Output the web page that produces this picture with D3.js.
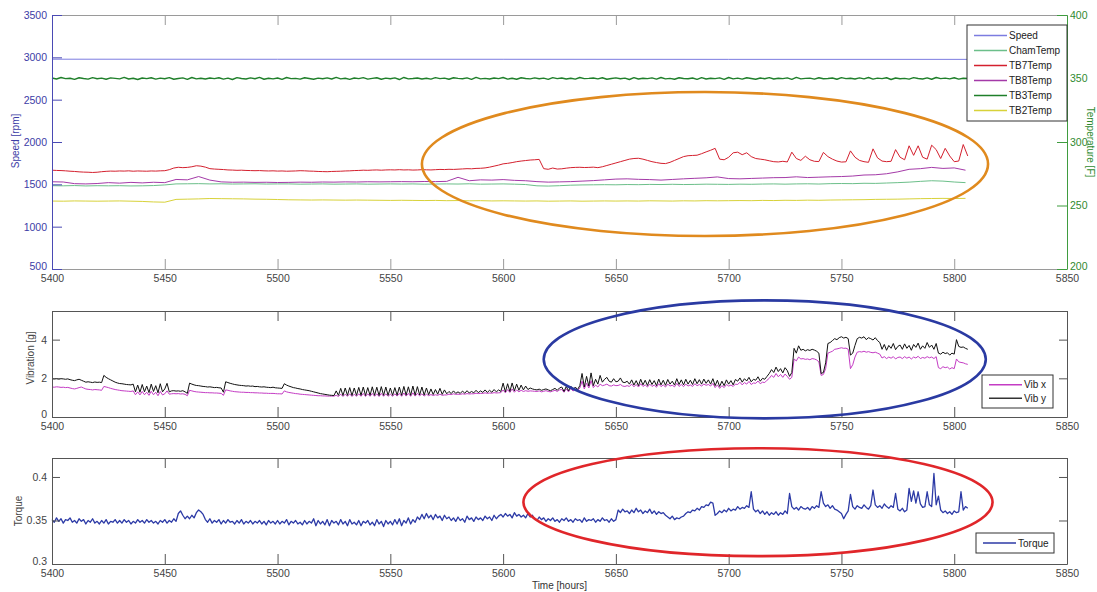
<!DOCTYPE html>
<html>
<head>
<meta charset="utf-8">
<script src="https://cdn.jsdelivr.net/npm/d3@7"></script>
<style>
body { margin: 0; background: #fff; }
text { font-family: "Liberation Sans", Arial, sans-serif; }
</style>
</head>
<body>
<svg id="chart" width="1097" height="592"></svg>
<script>
// ---- tick labels ----
var xTicks = [5400, 5450, 5500, 5550, 5600, 5650, 5700, 5750, 5800, 5850];
var speedTicks = [500, 1000, 1500, 2000, 2500, 3000, 3500];
var tempTicks = [200, 250, 300, 350, 400];
var vibTicks = [0, 2, 4];
var torqueTicks = [0.3, 0.35, 0.4];

// ---- top panel: speed (rpm) and temperatures (F) ----
var speedHours = [5400, 5500, 5600, 5700, 5806];
var speed = [2978, 2977, 2977, 2976, 2976];

// 2 h samples from 5400
var tb7Temp = [
  277.8,277.6,277.5,277.3,277.0,276.8,276.5,276.3,276.2,276.0,276.2,
  276.6,276.9,277.1,277.0,277.2,277.1,277.3,277.0,277.2,277.1,277.0,277.2,277.1,277.3,277.4,
  278.2,279.5,280.1,279.8,280.0,280.5,281.3,281.0,280.2,279.0,278.7,278.5,
  278.3,278.0,277.9,277.7,277.8,277.6,277.5,277.4,277.5,277.3,277.2,277.3,277.1,277.2,277.0,277.1,277.2,277.4,
  277.3,277.1,277.0,276.8,276.7,276.6,276.8,276.9,277.0,277.2,277.3,277.5,277.6,277.8,277.7,277.9,278.0,277.8,278.0,278.1,
  278.0,278.2,278.0,278.1,277.9,278.0,278.2,278.1,278.0,278.2,278.4,278.3,278.5,278.4,278.6,278.8,279.0,278.9,279.2,279.3,
  279.6,280.2,281.0,281.8,282.8,283.2,283.8,284.5,285.0,285.4,285.8,286.0,286.3,
  279.0,278.5,279.5,278.7,278.9,279.4,279.8,280.0,280.1,279.9,280.0,280.2,279.8,
  280.5,281.5,282.5,283.5,284.5,285.5,286.5,287.0,287.2,286.5,285.5,284.5,283.8,283.2,283.0,
  284.0,285.5,287.0,288.5,289.2,289.4,289.6,290.8,292.2,293.5,295.0,
  286.5,286.0,288.0,291.5,
  292.0,290.0,291.5,288.5,287.0,286.5,286.0,285.2,284.5,284.3,284.8,284.3,292.0,
  287.0,285.5,288.8,286.0,284.8,284.6,
  291.8,288.5,286.5,285.0,284.2,284.4,
  293.0,288.0,285.5,284.5,284.0,
  294.6,287.5,285.0,284.5,284.8,
  294.0,288.0,286.0,
  297.0,289.5,
  297.0,288.0,286.5,
  297.5,294.0,
  287.0,295.0,289.0,
  284.5,285.0,
  298.0,289.0
];

var tb3Temp = [
  350.4,349.6,350.8,349.9,350.2,349.3,350.6,350.0,349.5,350.7,349.8,350.3,
  349.4,350.5,350.1,349.7,350.9,349.6,350.2,349.2,350.4,349.9,350.6,349.5,
  350.3,349.8,350.7,349.4,350.0,350.5,349.3,350.8,349.7,350.2,349.6,350.4,
  349.9,350.6,349.5,350.3,349.2,350.7,350.0,349.6,350.5,349.8,350.9,349.4,
  350.2,349.7,350.4,349.3,350.8,349.9,350.1,349.5,350.6,350.0,349.4,350.3,
  349.8,350.5,349.6,350.9,349.7,350.2,349.3,350.4,349.9,350.7,349.5,350.1,
  350.6,349.4,350.3,349.8,350.5,349.2,350.8,349.7,350.0,350.4,349.6,350.2,
  349.5,350.7,349.9,350.3,349.4,350.6,350.1,349.8,350.5,349.3,350.9,349.7,
  350.1,349.6,350.4,349.9,350.8,349.5,350.2,349.4,350.6,350.0,349.7,350.5,
  349.8,350.3,349.3,350.7,349.9,350.4,349.6,350.2,349.5,350.8,349.9,350.1,
  350.4,349.7,350.6,349.4,350.0,350.5,349.8,350.3,349.2,350.7,349.6,350.2,
  349.9,350.5,349.5,350.8,349.7,350.1,349.4,350.6,350.0,349.8,350.4,349.3,
  350.7,349.6,350.2,349.9,350.5,349.3,350.8,349.7,350.3,349.5,350.6,350.0,
  349.4,350.4,349.8,350.7,349.6,350.2,349.9,350.5,349.3,350.9,349.7,350.1,
  350.3,349.5,350.6,349.8,350.0,350.4,349.4,350.7,349.9,350.2,349.6,350.5,
  349.7,350.8,349.5,350.3,349.9,350.6,349.2,350.4,349.8,350.1,349.5,350.7,
  350.0,349.6,350.5,349.4,350.8,349.9,350.3,349.7,350.6,349.5,350.2,350.0
];

// 5 h samples from 5400
var tb8Temp = [
  268.7,268.5,267.2,267.0,267.3,268.0,267.6,268.2,267.8,268.3,268.0,
  270.5,270.2,272.8,270.0,268.6,268.3,268.4,268.2,268.3,268.1,
  268.2,268.4,268.3,268.5,268.4,268.6,268.5,268.7,268.6,268.7,
  268.8,268.7,268.9,268.8,269.0,272.2,269.5,270.2,270.0,270.4,
  269.8,269.5,268.8,268.4,268.6,268.8,269.2,269.6,270.2,270.8,
  271.0,270.6,270.4,270.0,270.5,271.0,271.4,271.8,272.5,271.2,
  271.0,271.3,271.6,271.9,272.0,272.6,272.0,272.3,272.6,272.8,
  273.2,274.0,274.2,275.0,276.5,278.5,279.0,280.0,279.2,279.6,277.8
];
var chamTemp = [
  265.6,265.5,265.7,265.4,265.6,265.5,265.6,265.4,265.5,265.7,266.2,
  267.0,267.1,267.2,267.0,267.1,266.9,267.0,267.1,266.9,267.0,
  267.0,266.8,266.9,267.0,266.8,266.9,267.0,266.8,266.9,267.0,
  266.9,267.0,266.8,266.9,267.0,266.9,267.1,266.8,266.9,267.0,
  266.8,266.5,265.5,265.3,265.6,266.0,266.2,266.3,266.4,266.3,
  266.5,266.4,266.6,266.5,266.7,266.5,266.6,266.8,266.7,266.6,
  266.8,266.7,266.9,267.0,266.8,267.0,267.1,266.9,267.2,267.3,
  267.2,267.5,267.4,267.7,268.0,268.4,269.0,269.5,269.2,268.5,268.0
];
var tb2Temp = [
  253.5,253.4,253.6,253.5,253.4,253.5,253.6,253.4,253.2,252.8,252.6,
  254.8,255.0,255.2,255.5,255.4,255.3,255.2,255.0,254.9,254.7,
  254.5,254.4,254.3,254.4,254.3,254.2,254.3,254.2,254.1,254.0,
  254.1,254.0,253.9,254.0,253.8,253.9,253.7,253.8,253.6,253.7,
  253.6,253.5,253.6,253.4,253.5,253.6,253.4,253.5,253.6,253.5,
  253.6,253.5,253.7,253.6,253.5,253.7,253.6,253.8,253.7,253.8,
  253.9,253.8,254.0,253.9,254.1,254.0,254.2,254.1,254.3,254.4,
  254.5,254.6,254.8,254.9,255.0,255.2,255.4,255.5,255.6,255.5,255.6
];

// ---- middle panel: vibration (g), 1 h samples from 5400 ----
var vibY = [
  1.98,1.97,1.99,1.96,1.98,1.97,1.95,1.97,1.93,
  1.90,1.88,1.92,1.95,1.90,1.85,
  1.80,1.82,1.80,1.78,1.81,1.79,1.80,1.78,
  2.15,
  2.05,1.98,1.92,1.86,1.80,1.76,1.73,1.72,1.70,1.68,1.67,1.66,
  1.70,1.30,1.65,1.28,1.68,1.30,1.60,1.26,1.70,1.32,1.62,1.25,1.72,1.30,1.45,1.74,
  1.30,1.35,1.36,1.34,1.35,1.33,1.36,1.30,1.22,
  1.75,
  1.70,1.66,1.63,1.62,1.60,1.58,1.57,1.55,1.56,1.54,1.52,1.53,1.51,1.50,1.28,
  1.82,
  1.78,1.74,1.71,1.68,1.66,1.64,1.63,1.62,1.60,1.61,1.59,1.60,1.57,1.58,1.56,1.55,1.56,1.54,1.53,1.52,1.54,1.51,1.50,1.49,1.48,
  1.72,
  1.65,1.60,1.56,1.52,1.50,1.47,1.45,1.42,1.40,1.38,1.36,1.33,1.30,1.27,1.24,1.21,1.19,1.17,1.15,1.13,1.12,1.11,
  1.35,1.12,1.48,1.11,1.50,1.12,1.52,1.11,1.50,1.12,1.53,1.12,1.55,1.11,1.52,1.12,1.56,1.12,1.54,1.11,1.57,1.12,1.55,1.12,
  1.50,1.12,1.52,1.13,1.55,1.12,1.58,1.13,1.56,1.12,1.60,1.13,1.57,1.14,1.55,1.13,1.50,1.15,1.45,1.16,1.42,1.18,1.48,1.17,1.40,1.20,
  1.32,1.21,1.35,1.22,1.30,1.22,1.34,1.23,1.36,1.24,1.32,1.25,1.38,1.26,1.35,1.27,1.40,1.27,1.38,1.28,1.42,1.30,1.40,1.32,
  1.75,1.30,1.72,1.32,1.76,1.35,1.70,1.38,1.65,1.40,1.60,1.42,1.50,
  1.45,1.42,1.40,1.44,1.38,1.42,1.45,1.40,1.36,1.42,1.48,1.38,1.50,
  1.55,1.32,1.58,1.35,1.60,1.40,1.55,1.42,1.62,
  2.25,1.55,2.10,1.60,2.28,1.62,1.95,1.70,2.15,
  1.80,1.95,2.05,1.85,1.80,1.98,1.82,1.85,2.02,1.80,1.78,1.85,
  1.70,1.92,1.65,1.88,1.62,1.95,1.66,1.90,1.63,1.93,1.68,1.88,1.62,1.96,1.66,1.90,1.64,1.94,1.70,1.85,1.65,1.98,1.68,1.92,
  1.66,1.95,1.70,1.90,1.68,1.98,1.72,1.93,1.70,1.96,1.74,1.92,1.70,1.98,1.62,1.90,1.58,1.85,1.62,1.92,1.70,1.88,1.66,1.94,
  1.85,2.02,1.80,1.98,1.86,2.05,1.82,1.95,1.90,2.08,1.85,2.00,1.95,2.10,
  2.25,2.45,2.30,2.58,2.35,2.50,2.28,2.55,2.40,2.10,
  2.30,
  3.55,3.30,3.68,
  3.45,3.50,3.42,3.48,3.44,3.50,3.46,3.40,3.30,
  2.25,2.30,2.80,
  3.80,3.85,3.95,4.05,4.00,4.10,4.15,4.08,4.12,4.05,
  3.20,3.30,3.70,
  4.05,4.12,4.08,4.15,4.00,4.10,4.05,3.98,4.10,3.95,3.85,
  3.50,3.75,3.45,3.70,3.55,3.80,3.48,3.65,3.72,3.50,3.78,3.55,3.70,3.45,3.75,3.60,3.82,3.50,3.68,3.55,3.85,3.60,3.72,3.50,3.80,
  3.30,3.25,3.35,3.28,3.32,3.20,3.30,3.25,
  4.00,
  3.65,3.60,3.62,3.55,3.50
];
var vibX = [
  1.55,1.54,1.56,1.55,1.53,1.54,1.52,1.53,1.50,
  1.47,1.45,1.48,1.52,1.55,1.50,
  1.45,1.43,1.42,1.40,1.42,1.41,1.40,1.38,
  1.58,
  1.55,1.52,1.48,1.45,1.42,1.40,1.38,1.36,1.35,1.34,1.33,1.32,
  1.35,1.15,1.30,1.14,1.32,1.15,1.28,1.12,1.33,1.15,1.28,1.10,1.32,1.14,1.20,1.35,
  1.18,1.20,1.21,1.20,1.21,1.19,1.20,1.17,1.10,
  1.38,
  1.35,1.32,1.30,1.29,1.28,1.27,1.26,1.26,1.25,1.25,1.24,1.24,1.23,1.22,1.12,
  1.40,
  1.38,1.35,1.33,1.31,1.30,1.29,1.28,1.28,1.27,1.27,1.26,1.26,1.25,1.25,1.24,1.24,1.23,1.23,1.22,1.22,1.22,1.21,1.20,1.20,1.19,
  1.35,
  1.30,1.27,1.25,1.23,1.21,1.20,1.18,1.17,1.16,1.15,1.14,1.13,1.12,1.11,1.10,1.10,1.09,1.09,1.08,1.08,1.08,1.08,
  1.12,1.06,1.18,1.06,1.18,1.07,1.20,1.06,1.18,1.07,1.20,1.07,1.22,1.06,1.20,1.07,1.22,1.07,1.20,1.06,1.22,1.07,1.20,1.07,
  1.18,1.07,1.20,1.08,1.22,1.07,1.24,1.08,1.22,1.07,1.25,1.08,1.22,1.09,1.20,1.08,1.18,1.10,1.16,1.11,1.15,1.12,1.18,1.12,1.14,1.14,
  1.18,1.16,1.20,1.17,1.18,1.17,1.20,1.18,1.21,1.19,1.20,1.20,1.23,1.21,1.22,1.22,1.25,1.22,1.24,1.23,1.26,1.24,1.25,1.26,
  1.40,1.25,1.42,1.27,1.45,1.28,1.40,1.30,1.38,1.32,1.36,1.33,1.35,
  1.34,1.33,1.32,1.35,1.30,1.33,1.36,1.32,1.30,1.34,1.38,1.32,1.40,
  1.42,1.28,1.45,1.30,1.48,1.34,1.45,1.36,1.50,
  1.85,1.45,1.75,1.50,1.88,1.52,1.65,1.55,1.70,
  1.62,1.65,1.70,1.62,1.60,1.66,1.62,1.63,1.68,1.60,1.58,1.62,
  1.58,1.70,1.56,1.68,1.55,1.72,1.58,1.66,1.55,1.70,1.58,1.65,1.54,1.72,1.57,1.66,1.55,1.70,1.60,1.64,1.56,1.74,1.58,1.68,
  1.57,1.70,1.60,1.66,1.58,1.72,1.62,1.68,1.60,1.70,1.64,1.68,1.60,1.74,1.52,1.66,1.48,1.62,1.52,1.68,1.60,1.65,1.58,1.70,
  1.68,1.80,1.66,1.78,1.70,1.84,1.68,1.76,1.74,1.86,1.72,1.80,1.78,1.90,
  2.00,2.15,2.05,2.25,2.08,2.20,2.05,2.22,2.10,1.95,
  2.05,
  3.00,2.90,3.10,
  3.00,3.02,2.98,3.00,2.96,3.02,3.00,2.95,2.85,
  2.15,2.20,2.50,
  3.30,3.35,3.40,3.50,3.52,3.55,3.58,3.55,3.56,3.50,
  2.50,2.70,3.10,
  3.35,3.38,3.36,3.40,3.35,3.38,3.34,3.32,3.35,3.30,3.25,
  3.05,3.12,3.02,3.10,3.04,3.12,3.00,3.08,3.10,3.02,3.12,3.04,3.10,3.00,3.10,3.05,3.14,3.02,3.08,3.04,3.12,3.06,3.10,3.02,3.12,
  2.55,2.50,2.60,2.55,2.58,2.48,2.55,2.50,
  3.00,
  2.85,2.82,2.80,2.75,2.72
];

// ---- bottom panel: torque, 1 h samples from 5400 ----
var torque = [
  .351,.348,.353,.349,.352,.347,.351,.350,.353,.348,
  .350,.347,.352,.349,.351,.346,.350,.348,.352,.347,
  .349,.346,.350,.347,.351,.346,.349,.348,.351,.347,
  .350,.347,.351,.348,.350,.346,.349,.347,.351,.348,
  .350,.347,.351,.348,.350,.347,.349,.346,.350,.348,
  .351,.347,.350,.348,.352,.349,
  .358,.361,.356,.352,
  .355,.352,.356,.353,
  .359,.362,.360,.357,
  .351,.348,.352,.347,.350,.348,.351,.346,.350,.347,.351,.348,
  .349,.346,.350,.347,.351,.346,.349,.347,.350,.346,
  .349,.347,.350,.346,.349,.345,.350,.347,.349,.346,
  .350,.346,.349,.347,.351,.345,.349,.347,.350,.346,
  .348,.345,.350,.346,.349,.347,.352,.344,.350,.346,
  .349,.345,.351,.344,.350,.347,.349,.345,.351,.346,
  .349,.344,.351,.346,.348,.345,.350,.344,.349,.347,
  .350,.345,.348,.344,.351,.346,.349,.343,.350,.346,
  .349,.345,.351,.346,.352,.344,.350,.347,.353,.346,.351,.348,
  .354,.351,.357,.352,.358,.353,.356,.351,.357,.353,.355,.350,.356,.352,.354,
  .350,.353,.349,.354,.350,.352,.348,.355,.351,.353,.349,.354,.351,.353,.350,.355,.352,.354,.350,.356,.352,.355,
  .357,.354,.358,.355,.357,.353,.359,.355,.357,.354,.356,.353,.358,.354,.356,
  .352,.350,.354,.351,.353,.349,.352,.350,.353,.349,.351,.348,.352,.350,.353,.349,.351,.348,.352,.350,
  .351,.348,.353,.349,.351,.350,.352,.348,.351,.349,.353,.350,.351,.348,.352,.349,.351,
  .362,.359,.363,.360,.361,.358,.362,.359,.364,.360,.362,.358,.361,.359,.363,.358,.361,.357,.360,.358,.359,.356,
  .354,.352,.355,.351,.353,.352,.354,.355,
  .358,.360,.359,.362,.361,.364,.362,.366,.365,.368,.367,.371,.370,
  .356,
  .358,.361,.359,.362,.360,.364,.361,.363,.362,.366,.363,.365,.364,.367,.365,
  .383,
  .363,.360,.362,.358,.361,.357,.360,.356,.359,.357,.360,.356,.359,.357,.361,.358,
  .381,
  .366,.363,.365,.362,.366,.364,.363,.365,.362,.366,.364,.367,.365,
  .383,
  .370,.366,.368,.364,.367,.363,
  .362,.360,.358,.352,.357,.361,
  .380,
  .366,.363,.367,.365,.364,.368,.365,.363,.367,
  .385,
  .368,.365,.367,.364,.369,.366,.364,.367,.365,
  .381,
  .363,.361,.364,.360,.362,
  .387,
  .372,.384,.370,.383,.369,.365,.366,
  .383,
  .368,.366,
  .404,
  .368,
  .378,
  .362,.359,.361,.358,.360,.357,.361,.359,.360,
  .383,
  .362,.366,.364
];

// ---- legends ----
var topNames = ['Speed', 'ChamTemp', 'TB7Temp', 'TB8Temp', 'TB3Temp', 'TB2Temp'];
var topColors = ['#7c7ce0', '#6cbf8a', '#d4202e', '#a43aa8', '#1f7f2a', '#d8d23a'];
var vibNames = ['Vib x', 'Vib y'];
var vibColors = ['#c43cc4', '#333333'];
var torqueNames = ['Torque'];
var torqueColors = ['#2c3aa6'];

// highlighted regions (hours, value range) for the ellipses
var topRegion = {h: [5564, 5815], v: [890, 2590]};
var vibRegion = {h: [5618, 5814], v: [-0.07, 6.03]};
var torqueRegion = {h: [5609, 5817], v: [0.309, 0.433]};

var svg = d3.select('#chart');
svg.append('rect').attr('width', 1097).attr('height', 592).attr('fill', '#fff');

var left = 52, right = 1067;
var x = d3.scaleLinear().domain([5400, 5850]).range([left, right]);

function series(start, step, values) {
    return values.map(function (v, i) {
        return {h: start + i * step, v: v};
    });
}
function pairs(hours, values) {
    return hours.map(function (h, i) {
        return {h: h, v: values[i]};
    });
}

function styleAxis(g, lineColor, textColor) {
    g.select('.domain').attr('stroke', lineColor);
    g.selectAll('.tick line').attr('stroke', lineColor);
    g.selectAll('.tick text')
        .attr('fill', textColor)
        .style('font-size', '10.5px')
        .style('font-family', '"Liberation Sans", Arial, sans-serif');
}

function drawXAxes(top, bottom, color) {
    var gb = svg.append('g')
        .attr('transform', 'translate(0,' + bottom + ')')
        .call(d3.axisBottom(x).tickValues(xTicks).tickSize(-10).tickSizeOuter(0)
            .tickPadding(6).tickFormat(d3.format('d')));
    styleAxis(gb, color, '#444');
    var gt = svg.append('g')
        .attr('transform', 'translate(0,' + top + ')')
        .call(d3.axisTop(x).tickValues(xTicks).tickSize(-10).tickSizeOuter(0).tickFormat(''));
    styleAxis(gt, color, '#444');
}

function drawLine(data, y, color, width) {
    var line = d3.line()
        .x(function (d) { return x(d.h); })
        .y(function (d) { return y(d.v); });
    svg.append('path')
        .datum(data)
        .attr('d', line)
        .attr('fill', 'none')
        .attr('stroke', color)
        .attr('stroke-width', width)
        .attr('stroke-linejoin', 'round');
}

function drawEllipse(region, y, color) {
    var x0 = x(region.h[0]), x1 = x(region.h[1]);
    var y0 = y(region.v[1]), y1 = y(region.v[0]);
    svg.append('ellipse')
        .attr('cx', (x0 + x1) / 2)
        .attr('cy', (y0 + y1) / 2)
        .attr('rx', (x1 - x0) / 2)
        .attr('ry', (y1 - y0) / 2)
        .attr('fill', 'none')
        .attr('stroke', color)
        .attr('stroke-width', 2.6);
}

function drawLegend(names, colors, bx, by, bw, rowH) {
    var g = svg.append('g').attr('transform', 'translate(' + bx + ',' + by + ')');
    g.append('rect')
        .attr('width', bw)
        .attr('height', names.length * rowH + 6)
        .attr('fill', '#fff')
        .attr('stroke', '#333')
        .attr('stroke-width', 1);
    var rows = g.selectAll('g.row')
        .data(names)
        .enter()
        .append('g')
        .attr('class', 'row')
        .attr('transform', function (d, i) { return 'translate(0,' + (3 + rowH / 2 + i * rowH) + ')'; });
    rows.append('line')
        .attr('x1', 7).attr('x2', 40)
        .attr('stroke', function (d, i) { return colors[i]; })
        .attr('stroke-width', 1.3);
    rows.append('text')
        .attr('x', 42)
        .attr('dy', '0.35em')
        .attr('fill', '#222')
        .style('font-size', '10px')
        .text(function (d) { return d; });
}

function yLabel(text, px, py, angle, color) {
    svg.append('text')
        .attr('transform', 'translate(' + px + ',' + py + ') rotate(' + angle + ')')
        .attr('text-anchor', 'middle')
        .attr('dy', '0.35em')
        .attr('fill', color)
        .style('font-size', '10px')
        .text(text);
}

// lift the lowest y label so it clears the x label underneath
function liftLowest(g, value) {
    g.selectAll('.tick text').filter(function (d) { return d === value; }).attr('dy', '0.05em');
}

// ======== top panel ========
var topTop = 15, topBottom = 269;
var ySpeed = d3.scaleLinear().domain([500, 3500]).range([topBottom, topTop]);
var yTemp = d3.scaleLinear().domain([200, 400]).range([topBottom, topTop]);

drawLine(series(5400, 5, tb2Temp), yTemp, topColors[5], 1);
drawLine(series(5400, 5, chamTemp), yTemp, topColors[1], 1);
drawLine(series(5400, 5, tb8Temp), yTemp, topColors[3], 1);
drawLine(series(5400, 2, tb7Temp), yTemp, topColors[2], 1);
drawLine(series(5400, 2, tb3Temp), yTemp, topColors[4], 1.4);
drawLine(pairs(speedHours, speed), ySpeed, topColors[0], 1);

drawXAxes(topTop, topBottom, '#9a9a9a');
var gl = svg.append('g')
    .attr('transform', 'translate(' + left + ',0)')
    .call(d3.axisLeft(ySpeed).tickValues(speedTicks).tickSize(-10).tickSizeOuter(0).tickPadding(5)
        .tickFormat(d3.format('d')));
styleAxis(gl, '#4a4ab4', '#3c3ca6');
liftLowest(gl, 500);
var gr = svg.append('g')
    .attr('transform', 'translate(' + right + ',0)')
    .call(d3.axisRight(yTemp).tickValues(tempTicks).tickSize(-10).tickSizeOuter(0).tickPadding(3)
        .tickFormat(d3.format('d')));
styleAxis(gr, '#3f9c3f', '#2f8a2f');
liftLowest(gr, 200);

drawEllipse(topRegion, ySpeed, '#e08a1e');
drawLegend(topNames, topColors, 967, 25, 100, 15);
yLabel('Speed [rpm]', 15, 141, -90, '#3c3ca6');
yLabel('Temperature [F]', 1090, 142, 90, '#2f8a2f');

// ======== middle panel ========
var midTop = 311, midBottom = 417;
var yVib = d3.scaleLinear().domain([0, 5.48]).range([midBottom, midTop]);

drawLine(series(5400, 1, vibX), yVib, vibColors[0], 1);
drawLine(series(5400, 1, vibY), yVib, '#111', 1);

drawXAxes(midTop, midBottom, '#555');
var gml = svg.append('g')
    .attr('transform', 'translate(' + left + ',0)')
    .call(d3.axisLeft(yVib).tickValues(vibTicks).tickSize(-8).tickSizeOuter(0).tickPadding(5)
        .tickFormat(d3.format('d')));
styleAxis(gml, '#555', '#444');
liftLowest(gml, 0);
var gmr = svg.append('g')
    .attr('transform', 'translate(' + right + ',0)')
    .call(d3.axisRight(yVib).tickValues(vibTicks).tickSize(-8).tickSizeOuter(0).tickFormat(''));
styleAxis(gmr, '#555', '#444');

drawEllipse(vibRegion, yVib, '#2a3aa2');
drawLegend(vibNames, vibColors, 982, 375, 71, 13.5);
yLabel('Vibration [g]', 30, 358, -90, '#444');

// ======== bottom panel ========
var botTop = 458, botBottom = 564;
var yTorque = d3.scaleLinear().domain([0.3, 0.4218]).range([botBottom, botTop]);

drawLine(series(5400, 1, torque), yTorque, torqueColors[0], 1.3);

drawXAxes(botTop, botBottom, '#555');
var gbl = svg.append('g')
    .attr('transform', 'translate(' + left + ',0)')
    .call(d3.axisLeft(yTorque).tickValues(torqueTicks).tickSize(-8).tickSizeOuter(0).tickPadding(5)
        .tickFormat(d3.format('.2~f')));
styleAxis(gbl, '#555', '#444');
liftLowest(gbl, 0.3);
var gbr = svg.append('g')
    .attr('transform', 'translate(' + right + ',0)')
    .call(d3.axisRight(yTorque).tickValues(torqueTicks).tickSize(-8).tickSizeOuter(0).tickFormat(''));
styleAxis(gbr, '#555', '#444');

drawEllipse(torqueRegion, yTorque, '#e0262a');
drawLegend(torqueNames, torqueColors, 976, 533, 78, 14);
yLabel('Torque', 18, 511, -90, '#444');

svg.append('text')
    .attr('x', (left + right) / 2)
    .attr('y', 589)
    .attr('text-anchor', 'middle')
    .attr('fill', '#333')
    .style('font-size', '10px')
    .text('Time [hours]');
</script>
</body>
</html>
